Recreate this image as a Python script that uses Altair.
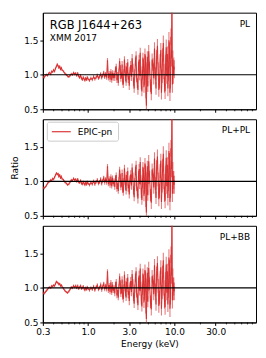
import altair as alt
import pandas as pd

# ---------------- data ----------------
energy_soft = [0.30, 0.31, 0.32, 0.33, 0.34, 0.35, 0.36, 0.37, 0.38, 0.39,
               0.40, 0.41, 0.42, 0.43, 0.44, 0.45, 0.46, 0.47, 0.48, 0.49, 0.50,
               0.52, 0.54, 0.56, 0.58, 0.60, 0.62, 0.64, 0.66, 0.68, 0.70,
               0.72, 0.74, 0.76, 0.78, 0.80, 0.82, 0.84, 0.86, 0.88, 0.90,
               0.92, 0.94, 0.96, 0.98, 1.00,
               1.04, 1.08, 1.12, 1.16, 1.20, 1.24, 1.28, 1.32, 1.36, 1.40,
               1.44, 1.48, 1.52, 1.56, 1.60, 1.64, 1.68, 1.72, 1.76, 1.80,
               1.84, 1.88, 1.92, 1.96]
energy_hard = [2.00, 2.04, 2.08, 2.12, 2.16, 2.20, 2.24, 2.28, 2.32, 2.36,
               2.40, 2.44, 2.48, 2.52, 2.56, 2.60, 2.64, 2.68, 2.72, 2.76,
               2.80, 2.84, 2.88, 2.92, 2.96,
               3.00, 3.06, 3.12, 3.18, 3.24, 3.30, 3.36, 3.42, 3.48, 3.54,
               3.60, 3.66, 3.72, 3.78, 3.84, 3.90, 3.96, 4.02, 4.08, 4.14,
               4.20, 4.26, 4.32, 4.38, 4.44, 4.50, 4.56, 4.62, 4.68, 4.74,
               4.80, 4.86, 4.92, 4.98,
               5.04, 5.16, 5.28, 5.40, 5.52, 5.64, 5.76, 5.88, 6.00, 6.12,
               6.24, 6.36, 6.48, 6.60, 6.72, 6.84, 6.96, 7.08, 7.20, 7.32,
               7.44, 7.56, 7.68, 7.80, 7.92, 8.04, 8.16, 8.28, 8.40, 8.52,
               8.64, 8.76, 8.88, 9.00, 9.12, 9.24, 9.36, 9.48, 9.60, 9.72,
               9.84, 9.96]

soft_pl = [0.97, 0.96, 0.99, 1.00, 0.99, 1.02, 1.03, 1.01, 1.05, 1.04,
           1.07, 1.05, 1.09, 1.12, 1.15, 1.13, 1.10, 1.12, 1.08, 1.10, 1.07,
           1.05, 1.02, 1.00, 0.98, 0.97, 0.99, 1.01, 1.00, 1.03, 1.01,
           1.02, 0.99, 1.02, 0.98, 0.96, 0.99, 0.95, 0.93, 0.96, 0.94,
           0.92, 0.95, 0.93, 0.96, 0.94,
           0.92, 0.95, 0.93, 0.97, 0.94, 0.96, 0.99, 0.95, 0.97, 1.01,
           0.96, 0.99, 1.03, 0.97, 1.01, 0.96, 1.21, 0.95, 1.02, 0.93,
           1.05, 0.92, 1.03, 0.95]
soft_plpl = [0.91, 0.90, 0.92, 0.94, 0.97, 0.99, 1.00, 1.02, 1.01, 1.04,
             1.03, 1.06, 1.09, 1.12, 1.10, 1.11, 1.07, 1.09, 1.05, 1.07, 1.04,
             1.02, 0.99, 0.97, 0.95, 0.96, 0.99, 1.02, 1.01, 1.04, 1.02,
             1.03, 1.00, 1.03, 0.99, 0.98, 1.01, 0.97, 0.96, 0.99, 0.97,
             0.95, 0.98, 0.96, 0.99, 0.97,
             0.95, 0.98, 0.96, 1.00, 0.96, 0.99, 1.02, 0.97, 0.99, 1.03,
             0.97, 1.01, 1.05, 0.98, 1.03, 0.98, 1.22, 0.96, 1.04, 0.94,
             1.07, 0.93, 1.05, 0.96]
soft_plbb = [0.93, 0.92, 0.94, 0.96, 0.98, 1.00, 1.01, 1.00, 1.03, 1.02,
             1.04, 1.03, 1.06, 1.09, 1.08, 1.07, 1.05, 1.06, 1.03, 1.04, 1.02,
             0.99, 0.96, 0.94, 0.93, 0.95, 0.98, 1.01, 1.00, 1.03, 1.01,
             1.03, 1.00, 1.03, 0.99, 1.01, 1.03, 0.99, 1.00, 1.02, 0.99,
             0.97, 1.00, 0.98, 1.01, 0.99,
             0.97, 1.00, 0.98, 1.02, 0.97, 1.01, 1.04, 0.98, 1.00, 1.05,
             0.97, 1.02, 1.06, 0.98, 1.03, 0.98, 1.24, 0.96, 1.04, 0.94,
             1.08, 0.93, 1.05, 0.96]

hard_pl = [1.02, 0.95, 1.08, 1.12, 0.92, 1.00, 0.88, 1.05, 1.20, 1.10,
           0.94, 0.99, 1.15, 0.90, 0.86, 1.03, 1.22, 1.08, 0.96, 0.89,
           1.12, 1.02, 1.18, 0.93, 0.98,
           0.84, 1.06, 1.14, 0.97, 1.24, 1.10, 0.90, 0.80, 1.02, 1.19,
           1.28, 0.95, 0.88, 0.78, 1.12, 1.22, 0.99, 1.32, 1.05, 0.86,
           0.76, 1.00, 1.25, 1.16, 0.82, 0.93, 1.30, 1.20, 0.74, 0.55,
           1.10, 1.26, 0.83, 1.08,
           1.34, 1.10, 0.84, 0.72, 1.22, 1.15, 0.95, 1.38, 1.02, 0.80,
           1.26, 1.42, 1.08, 0.78, 0.90, 1.20, 1.36, 0.74, 0.98, 1.28,
           1.46, 1.05, 0.85, 0.76, 1.18, 1.40, 0.98, 1.30, 0.80, 1.02,
           1.50, 1.35, 0.74, 0.92, 1.55, 1.24, 2.60, 0.86, 1.22, 1.00,
           1.12, 1.08]
hard_model2 = [1.00, 0.92, 1.05, 1.09, 0.89, 0.97, 0.86, 1.02, 1.17, 1.07,
               0.91, 0.96, 1.12, 0.88, 0.84, 1.00, 1.19, 1.05, 0.93, 0.86,
               1.09, 0.99, 1.15, 0.90, 0.95,
               0.81, 1.03, 1.10, 0.94, 1.20, 1.07, 0.87, 0.77, 0.99, 1.15,
               1.24, 0.92, 0.85, 0.75, 1.08, 1.18, 0.96, 1.28, 1.02, 0.83,
               0.73, 0.97, 1.21, 1.12, 0.79, 0.90, 1.26, 1.16, 0.71, 0.55,
               1.06, 1.22, 0.80, 1.04,
               1.29, 1.06, 0.80, 0.69, 1.17, 1.10, 0.91, 1.33, 0.97, 0.76,
               1.21, 1.36, 1.03, 0.74, 0.86, 1.15, 1.30, 0.70, 0.94, 1.22,
               1.40, 1.00, 0.81, 0.72, 1.12, 1.34, 0.93, 1.24, 0.76, 0.97,
               1.44, 1.29, 0.70, 0.88, 1.48, 1.18, 2.60, 0.82, 1.15, 0.95,
               1.02, 0.95]

err_soft = [0.020, 0.019, 0.018, 0.018, 0.017, 0.017, 0.016, 0.016, 0.016, 0.016,
            0.016, 0.016, 0.016, 0.016, 0.016, 0.016, 0.016, 0.016, 0.016, 0.017, 0.017,
            0.017, 0.017, 0.017, 0.018, 0.018, 0.018, 0.018, 0.019, 0.019, 0.019,
            0.019, 0.020, 0.020, 0.020, 0.020, 0.021, 0.021, 0.021, 0.021, 0.022,
            0.022, 0.022, 0.022, 0.023, 0.023,
            0.024, 0.024, 0.025, 0.025, 0.026, 0.026, 0.027, 0.027, 0.028, 0.028,
            0.029, 0.029, 0.030, 0.030, 0.031, 0.031, 0.032, 0.032, 0.033, 0.033,
            0.034, 0.034, 0.035, 0.035]
err_hard = [0.04, 0.04, 0.04, 0.04, 0.04, 0.04, 0.04, 0.04, 0.04, 0.04,
            0.04, 0.04, 0.05, 0.05, 0.05, 0.05, 0.05, 0.05, 0.05, 0.05,
            0.05, 0.05, 0.05, 0.05, 0.05,
            0.06, 0.06, 0.06, 0.06, 0.06, 0.06, 0.06, 0.06, 0.06, 0.06,
            0.06, 0.06, 0.07, 0.07, 0.07, 0.07, 0.07, 0.07, 0.07, 0.07,
            0.07, 0.07, 0.07, 0.07, 0.08, 0.08, 0.08, 0.08, 0.08, 0.12,
            0.08, 0.08, 0.08, 0.08,
            0.09, 0.09, 0.09, 0.09, 0.09, 0.09, 0.09, 0.09, 0.09, 0.09,
            0.10, 0.10, 0.10, 0.10, 0.10, 0.10, 0.10, 0.10, 0.10, 0.10,
            0.11, 0.11, 0.11, 0.11, 0.11, 0.11, 0.11, 0.11, 0.11, 0.11,
            0.12, 0.12, 0.12, 0.12, 0.12, 0.12, 0.60, 0.12, 0.13, 0.13,
            0.13, 0.13]

models = ["PL", "PL+PL", "PL+BB"]
ratios = {
    "PL": soft_pl + hard_pl,
    "PL+PL": soft_plpl + hard_model2,
    "PL+BB": soft_plbb + hard_model2,
}
energy = energy_soft + energy_hard
err = err_soft + err_hard

major_ticks = [0.3, 1.0, 3.0, 10.0, 30.0]
minor_ticks = [0.4, 0.5, 0.6, 0.7, 0.8, 0.9, 2, 4, 5, 6, 7, 8, 9,
               20, 40, 50, 60, 70, 80]
y_ticks = [0.5, 1.0, 1.5]

# ---------------- styling ----------------
W, H = 214, 97
RED = "#d62728"
FONT = "DejaVu Sans"
xscale = alt.Scale(type="log", domain=[0.3, 88], nice=False)
yscale = alt.Scale(domain=[0.5, 1.9], nice=False, zero=False)


def panel(model, bottom, ytitle, legend):
    df = pd.DataFrame({
        "E": energy,
        "R": ratios[model],
        "lo": [r - e for r, e in zip(ratios[model], err)],
        "hi": [r + e for r, e in zip(ratios[model], err)],
    })
    xaxis = alt.Axis(values=major_ticks, format=".1f", labels=bottom,
                     title="Energy (keV)" if bottom else None,
                     tickSize=3, grid=False, labelFontSize=9, titleFontSize=9,
                     titleFontWeight="normal", labelFlush=False, titlePadding=3,
                     labelPadding=2)
    yaxis = alt.Axis(values=y_ticks, format=".1f", title=ytitle if ytitle else None,
                     tickSize=3, grid=False, labelFontSize=9, titleFontSize=9,
                     titleFontWeight="normal", labelPadding=2, titlePadding=4)
    base = alt.Chart(df)
    bars = base.mark_rule(color=RED, opacity=0.6, strokeWidth=1.1, clip=True).encode(
        x=alt.X("E:Q", scale=xscale, axis=xaxis),
        y=alt.Y("lo:Q", scale=yscale, axis=yaxis),
        y2="hi:Q",
    )
    line = base.mark_line(color=RED, opacity=0.9, strokeWidth=1.1, clip=True).encode(
        x=alt.X("E:Q", scale=xscale),
        y=alt.Y("R:Q", scale=yscale),
    )
    one = alt.Chart(pd.DataFrame({"v": [1.0]})).mark_rule(
        color="black", strokeWidth=1.1).encode(y=alt.Y("v:Q", scale=yscale))
    minor = alt.Chart(pd.DataFrame({"m": minor_ticks})).mark_rule(
        color="black", strokeWidth=0.8).encode(
        x=alt.X("m:Q", scale=xscale), y=alt.value(H), y2=alt.value(H + 2))
    label = alt.Chart(pd.DataFrame({"t": [model]})).mark_text(
        align="right", baseline="alphabetic", font=FONT, fontSize=9, color="black"
    ).encode(x=alt.value(W - 6), y=alt.value(14), text="t:N")
    layers = [bars, line, one, minor, label]
    if model == "PL":
        layers.append(alt.Chart(pd.DataFrame({"t": ["RGB J1644+263"]})).mark_text(
            align="left", baseline="alphabetic", font=FONT, fontSize=11.5, color="black"
        ).encode(x=alt.value(7), y=alt.value(16), text="t:N"))
        layers.append(alt.Chart(pd.DataFrame({"t": ["XMM 2017"]})).mark_text(
            align="left", baseline="alphabetic", font=FONT, fontSize=9, color="black"
        ).encode(x=alt.value(7), y=alt.value(28), text="t:N"))
    if legend:
        layers.append(alt.Chart(pd.DataFrame({"a": [0]})).mark_rect(
            fill="white", stroke="#cccccc", strokeWidth=1, cornerRadius=2).encode(
            x=alt.value(4.5), x2=alt.value(76), y=alt.value(3), y2=alt.value(22)))
        layers.append(alt.Chart(pd.DataFrame({"a": [0]})).mark_rule(
            color=RED, opacity=0.85, strokeWidth=1.3).encode(
            x=alt.value(9), x2=alt.value(28), y=alt.value(12.5)))
        layers.append(alt.Chart(pd.DataFrame({"t": ["EPIC-pn"]})).mark_text(
            align="left", baseline="middle", font=FONT, fontSize=9, color="black"
        ).encode(x=alt.value(35), y=alt.value(13), text="t:N"))
    return alt.layer(*layers).properties(width=W, height=H)


chart = alt.vconcat(
    panel("PL", False, None, False),
    panel("PL+PL", False, "Ratio", True),
    panel("PL+BB", True, None, False),
    spacing=10,
    bounds="flush",
    padding={"left": 2, "right": 0, "top": 3, "bottom": 0},
).configure(font=FONT).configure_view(
    stroke="black", strokeWidth=1
).configure_axis(
    domainColor="black", tickColor="black", labelColor="black", titleColor="black",
    labelFont=FONT, titleFont=FONT
)

chart.save("out.html", embed_options={"renderer": "svg", "actions": False})
